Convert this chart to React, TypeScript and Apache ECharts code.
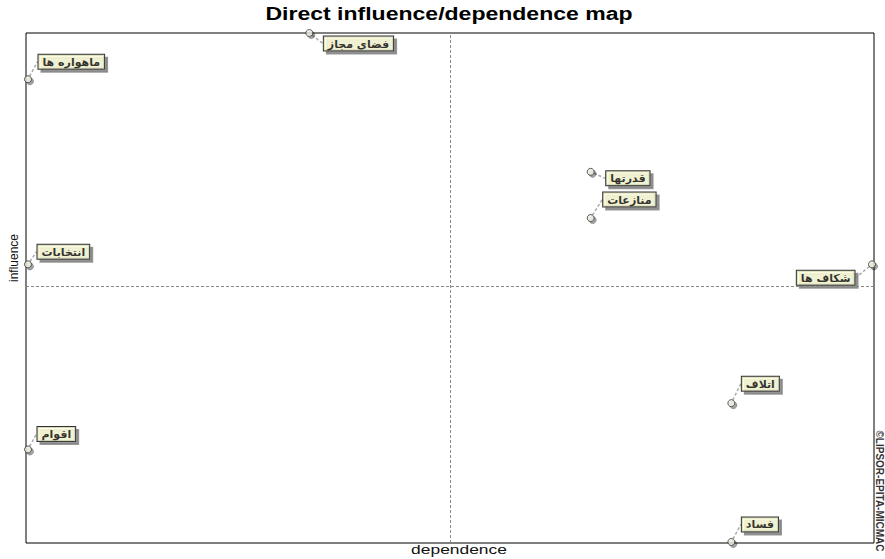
import React, { useEffect, useRef } from "react";
import * as echarts from "echarts";

// Variables and their positions on the direct influence/dependence map
const variables = ["ماهواره ها", "فضای مجاز", "انتخابات", "اقوام", "قدرتها", "منازعات", "شکاف ها", "اتلاف", "فساد"];
const dependence = [4, 6, 4, 4, 8, 8, 10, 9, 9];
const influence = [13, 14, 9, 5, 11, 10, 9, 6, 3];

// Crosshair (mean) values
const meanDependence = 7.0;
const meanInfluence = 8.53;

// Label placement (relative offsets from marker) – layout only
const labelPlacement: { pos: [number, number]; align: string; v: string }[] = [
  { pos: [14.5, -6.5], align: "left", v: "bottom" },
  { pos: [18.5, 7.5], align: "left", v: "top" },
  { pos: [13.5, -1.5], align: "left", v: "bottom" },
  { pos: [13.5, -4.5], align: "left", v: "bottom" },
  { pos: [19.5, 3.5], align: "left", v: "top" },
  { pos: [16.5, -7.5], align: "left", v: "bottom" },
  { pos: [-13.5, 10.5], align: "right", v: "top" },
  { pos: [14.5, -8.5], align: "left", v: "bottom" },
  { pos: [14.5, -6.5], align: "left", v: "bottom" },
];

export default function App() {
  const ref = useRef<HTMLDivElement>(null);
  useEffect(() => {
    if (!ref.current) return;
    const chart = echarts.init(ref.current, null, { renderer: "svg" });
    const data = variables.map((name, i) => ({
      name,
      value: [dependence[i], influence[i]],
      label: {
        position: labelPlacement[i].pos,
        align: labelPlacement[i].align,
        verticalAlign: labelPlacement[i].v,
      },
    }));
    chart.setOption({
      animation: false,
      backgroundColor: "#ffffff",
      grid: {
        left: 26,
        right: 11,
        top: 33,
        bottom: 16,
        show: true,
        borderColor: "#000",
        borderWidth: 1,
        backgroundColor: "transparent",
      },
      xAxis: {
        type: "value",
        min: 3.986,
        max: 10.014,
        axisLine: { show: false },
        axisTick: { show: false },
        axisLabel: { show: false },
        splitLine: { show: false },
      },
      yAxis: {
        type: "value",
        min: 2.978,
        max: 14,
        axisLine: { show: false },
        axisTick: { show: false },
        axisLabel: { show: false },
        splitLine: { show: false },
      },
      graphic: [
        {
          type: "text",
          x: 449,
          y: 13,
          scaleX: 1.28,
          style: {
            text: "Direct influence/dependence map",
            font: "bold 18px 'Liberation Sans', Arial, sans-serif",
            fill: "#000",
            align: "center",
            verticalAlign: "middle",
          },
        },
        {
          type: "text",
          x: 459,
          y: 550,
          scaleX: 1.45,
          style: {
            text: "dependence",
            font: "12px 'Liberation Sans', Arial, sans-serif",
            fill: "#111",
            align: "center",
            verticalAlign: "middle",
          },
        },
        {
          type: "text",
          x: 14,
          y: 258,
          rotation: Math.PI / 2,
          style: {
            text: "influence",
            font: "12px 'Liberation Sans', Arial, sans-serif",
            fill: "#111",
            align: "center",
            verticalAlign: "middle",
          },
        },
        {
          type: "text",
          x: 879,
          y: 491,
          rotation: -Math.PI / 2,
          style: {
            text: "©LIPSOR-EPITA-MICMAC",
            font: "bold 10px 'Liberation Sans Narrow', 'Liberation Sans', Arial, sans-serif",
            fill: "#333",
            align: "center",
            verticalAlign: "middle",
          },
        },
      ],
      series: [
        {
          type: "scatter",
          symbol: "circle",
          symbolSize: 7,
          clip: false,
          itemStyle: {
            color: "#ecece0",
            borderColor: "#333",
            borderWidth: 1,
            shadowColor: "rgba(0,0,0,0.45)",
            shadowOffsetX: 2,
            shadowOffsetY: 2,
            shadowBlur: 0,
          },
          label: {
            show: true,
            formatter: "{b}",
            fontFamily: "'DejaVu Sans', sans-serif",
            fontWeight: "bold",
            fontSize: 11,
            color: "#000",
            backgroundColor: "#ffffdc",
            borderColor: "#000",
            borderWidth: 1,
            padding: [2, 4, 1, 4],
            shadowColor: "#808080",
            shadowOffsetX: 3,
            shadowOffsetY: 3,
            shadowBlur: 0,
          },
          labelLine: {
            show: true,
            lineStyle: { color: "#aaa", width: 1.5, type: [3, 2] },
          },
          emphasis: { disabled: true },
          data,
          markLine: {
            silent: true,
            symbol: "none",
            label: { show: false },
            lineStyle: { color: "#888", width: 1, type: [3, 2] },
            data: [{ xAxis: meanDependence }, { yAxis: meanInfluence }],
          },
        },
      ],
    });
    return () => chart.dispose();
  }, []);
  return <div ref={ref} style={{ position: "fixed", left: 0, top: 0, width: 885, height: 559 }} />;
}
